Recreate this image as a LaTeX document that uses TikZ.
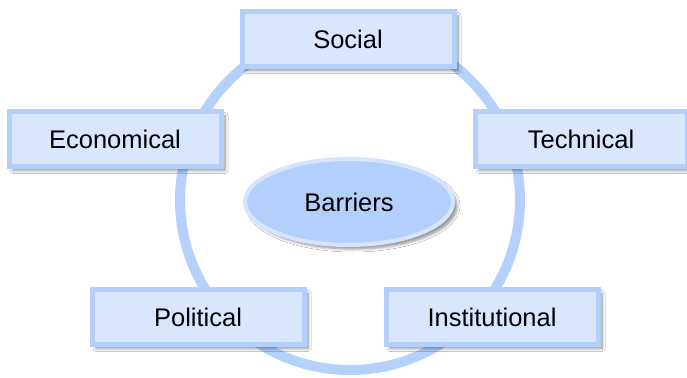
\documentclass[tikz,border=0pt]{standalone}
\usepackage{fontspec}
\setmainfont{Liberation Sans}
\usetikzlibrary{shapes.geometric,shadows.blur}
\definecolor{boxfill}{HTML}{D9E7FE}
\definecolor{boxline}{HTML}{B4D0FA}
\definecolor{ringcol}{HTML}{B3D1FA}
\definecolor{ellfill}{HTML}{B3D0FC}
\definecolor{ellline}{HTML}{D6E5FC}
\begin{document}
\begin{tikzpicture}[x=1pt,y=-1pt,
  every node/.style={font=\fontsize{25.5}{30}\selectfont, text=black},
  dropshadow/.style={blur shadow={shadow xshift=4pt, shadow yshift=-4pt, shadow blur steps=6, shadow blur radius=3pt, shadow opacity=45}},
  catbox/.style={rectangle, draw=boxline, fill=boxfill, line width=5pt, minimum width=212pt, minimum height=55pt, inner sep=0pt, dropshadow},
  core/.style={ellipse, draw=ellline, fill=ellfill, line width=4pt, minimum width=208pt, minimum height=86pt, inner sep=0pt, dropshadow},
  ringstyle/.style={circle, draw=ringcol, line width=10pt, minimum size=340pt, inner sep=0pt}]
\useasboundingbox (0,0) rectangle (687,377);
\fill[white] (0,0) rectangle (687,377);
\node[ringstyle] (ring) at (350,200) {};
\node[core] (barriers) at (349,202) {Barriers};
\node[catbox] (social) at (348,39) {Social};
\node[catbox] (economical) at (115,139) {Economical};
\node[catbox] (technical) at (581,139) {Technical};
\node[catbox] (political) at (198,317) {Political};
\node[catbox] (institutional) at (492,317) {Institutional};
\end{tikzpicture}
\end{document}
